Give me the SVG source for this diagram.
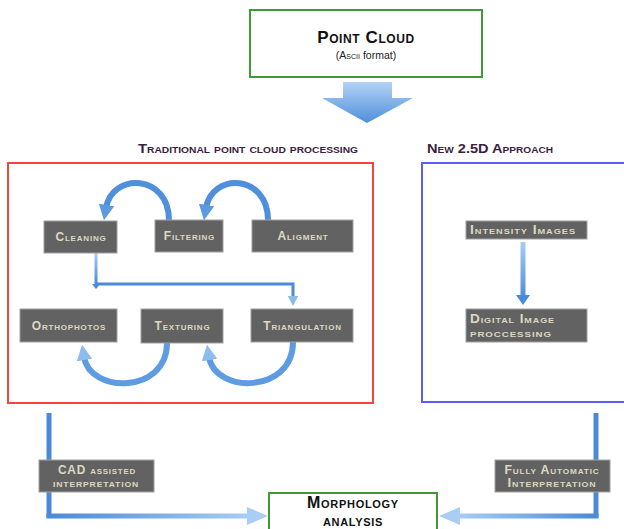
<svg xmlns="http://www.w3.org/2000/svg" width="624" height="529" viewBox="0 0 624 529">
<defs>
<linearGradient id="gDown" x1="0" y1="0" x2="0" y2="1">
<stop offset="0" stop-color="#b3d3f5"/><stop offset="1" stop-color="#4f8fdb"/>
</linearGradient>
<linearGradient id="gLeft" gradientUnits="userSpaceOnUse" x1="49" y1="0" x2="250" y2="0">
<stop offset="0" stop-color="#4a8ad8"/><stop offset="1" stop-color="#a9cdf3"/>
</linearGradient>
<linearGradient id="gRight" gradientUnits="userSpaceOnUse" x1="596" y1="0" x2="458" y2="0">
<stop offset="0" stop-color="#4a8ad8"/><stop offset="1" stop-color="#a9cdf3"/>
</linearGradient>
<linearGradient id="gV" gradientUnits="userSpaceOnUse" x1="0" y1="242" x2="0" y2="300">
<stop offset="0" stop-color="#a9cdf3"/><stop offset="1" stop-color="#4a8ad8"/>
</linearGradient>
<linearGradient id="gE" gradientUnits="userSpaceOnUse" x1="0" y1="253" x2="0" y2="284">
<stop offset="0" stop-color="#a9cdf3"/><stop offset="1" stop-color="#4a8ad8"/>
</linearGradient>
<marker id="ah" viewBox="0 0 10 10" refX="2" refY="5" markerWidth="2.6" markerHeight="2.6" orient="auto" markerUnits="strokeWidth">
<path d="M0,0 L10,5 L0,10 z" fill="#5c9be0"/>
</marker>
<marker id="ahL" viewBox="0 0 10 10" refX="2" refY="5" markerWidth="2.6" markerHeight="2.6" orient="auto" markerUnits="strokeWidth">
<path d="M0,0 L10,5 L0,10 z" fill="#8dbcef"/>
</marker>
<marker id="ahS" viewBox="0 0 10 10" refX="3" refY="5" markerWidth="3.4" markerHeight="3.4" orient="auto" markerUnits="strokeWidth">
<path d="M0,0 L10,5 L0,10 z" fill="#8dbcef"/>
</marker>
</defs>
<style>
.box{fill:#626262;stroke:#a0a0a0;stroke-width:1}
.lbl{font-family:"Liberation Sans",Arial,sans-serif;font-weight:bold;font-variant:small-caps;font-size:12px;letter-spacing:0.8px;fill:#ddd8c0;text-anchor:middle}
.lbs{text-anchor:start}
.ttl{font-family:"Liberation Sans",Arial,sans-serif;font-weight:bold;font-variant:small-caps;font-size:13px;fill:#3b1d3d}
.blk{font-family:"Liberation Sans",Arial,sans-serif;font-weight:bold;font-variant:small-caps;fill:#111;text-anchor:middle}
.sub{font-family:"Liberation Sans",Arial,sans-serif;font-size:10.5px;fill:#222;text-anchor:middle}
.sc{font-variant:small-caps}
.gbox{fill:#fff;stroke:#3e9a35;stroke-width:2}
.arc{fill:none;stroke-width:6;stroke-linecap:butt}
.conn{fill:none;stroke-width:5}
</style>

<g id="connectors">
<path class="arc" stroke="#4f8fdb" d="M169,220 C169,174 112,172 106,208" marker-end="url(#ah)"/>
<path class="arc" stroke="#4f8fdb" d="M268,220 C268,174 212,172 206,208" marker-end="url(#ah)"/>
<path class="arc" stroke="#5d9ce0" d="M167,343 C167,394 90,394 84,357" marker-end="url(#ahL)"/>
<path class="arc" stroke="#5d9ce0" d="M293,342 C293,394 215,394 209,357" marker-end="url(#ahL)"/>
<path fill="none" stroke="#4a8ad8" stroke-width="3" d="M96,284 L293,284 L293,299" marker-end="url(#ahS)"/>
<line x1="96" y1="253" x2="96" y2="285.5" stroke="url(#gE)" stroke-width="3"/>
<polygon points="92,284 100,284 96,289" fill="#4a8ad8"/>
<line x1="523" y1="242" x2="523" y2="296" stroke="url(#gV)" stroke-width="5"/>
<polygon points="516,295 530,295 523,305" fill="#4a8ad8"/>
<path class="conn" stroke="#4a8ad8" d="M49,413 L49,517"/>
<path class="conn" stroke="url(#gLeft)" d="M46.5,516 L249,516"/>
<polygon points="247,507 268,516 247,525" fill="#a9cdf3"/>
<path class="conn" stroke="#4a8ad8" d="M596,413 L596,517"/>
<path class="conn" stroke="url(#gRight)" d="M598.5,516 L458,516"/>
<polygon points="460,507 439,516 460,525" fill="#a9cdf3"/>
</g>

<g id="point-cloud">
<rect class="gbox" x="250" y="10" width="232" height="67"/>
<text class="blk" x="366" y="43" font-size="17" letter-spacing="0.6">Point Cloud</text>
<text class="sub" x="366" y="59">(<tspan class="sc">Ascii</tspan> format)</text>
</g>

<g id="big-arrow">
<polygon points="343,82 392,82 392,98 413,98 367,123 322,98 343,98" fill="url(#gDown)"/>
</g>

<g id="traditional">
<text class="ttl" x="138" y="153" textLength="220" lengthAdjust="spacingAndGlyphs">Traditional point cloud processing</text>
<rect x="8" y="163" width="365" height="240" fill="none" stroke="#f0463c" stroke-width="2"/>
</g>

<g id="approach">
<text class="ttl" x="427" y="153" textLength="126" lengthAdjust="spacingAndGlyphs">New 2.5D Approach</text>
<rect x="422" y="163" width="206" height="239" fill="none" stroke="#5a5ef5" stroke-width="2"/>
</g>

<g id="cleaning"><rect class="box" x="44" y="221" width="73" height="32"/><text class="lbl" x="81" y="241">Cleaning</text></g>
<g id="filtering"><rect class="box" x="155" y="220" width="68" height="32"/><text class="lbl" x="189.5" y="240">Filtering</text></g>
<g id="aligment"><rect class="box" x="252" y="220" width="101" height="32"/><text class="lbl" x="303" y="240">Aligment</text></g>
<g id="orthophotos"><rect class="box" x="20" y="309" width="97" height="33"/><text class="lbl" x="69" y="330">Orthophotos</text></g>
<g id="texturing"><rect class="box" x="141" y="309" width="82" height="34"/><text class="lbl" x="182.5" y="330">Texturing</text></g>
<g id="triangulation"><rect class="box" x="251" y="309" width="102" height="33"/><text class="lbl" x="302.5" y="330">Triangulation</text></g>

<g id="intensity"><rect class="box" x="466" y="221" width="121" height="18"/><text class="lbl lbs" x="470" y="234" textLength="106" lengthAdjust="spacingAndGlyphs">Intensity Images</text></g>
<g id="digital"><rect class="box" x="466" y="309" width="121" height="33"/><text class="lbl lbs" x="470" y="323" textLength="85" lengthAdjust="spacingAndGlyphs">Digital Image</text><text class="lbl lbs" x="470" y="337" textLength="82" lengthAdjust="spacingAndGlyphs">proccessing</text></g>

<g id="cad"><rect class="box" x="39" y="460" width="115" height="32"/><text class="lbl" x="97" y="474" textLength="78" lengthAdjust="spacingAndGlyphs">CAD assisted</text><text class="lbl" x="96" y="487" textLength="86" lengthAdjust="spacingAndGlyphs">interpretation</text></g>
<g id="fully"><rect class="box" x="495" y="460" width="115" height="32"/><text class="lbl" x="552" y="474" textLength="95" lengthAdjust="spacingAndGlyphs">Fully Automatic</text><text class="lbl" x="552" y="487" textLength="89" lengthAdjust="spacingAndGlyphs">Interpretation</text></g>

<g id="morphology">
<rect class="gbox" x="269" y="493" width="168" height="40"/>
<text class="blk" x="353" y="508" font-size="16" letter-spacing="0.7">Morphology</text>
<text class="blk" x="353" y="526" font-size="16" letter-spacing="0.7">analysis</text>
</g>
</svg>
